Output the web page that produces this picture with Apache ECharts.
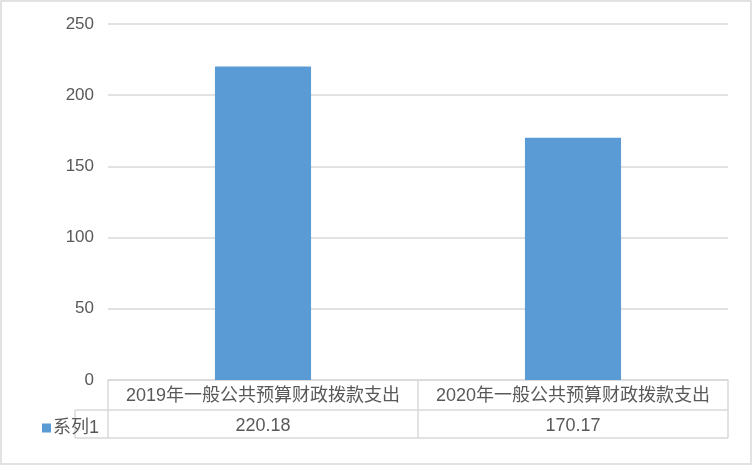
<!DOCTYPE html>
<html>
<head>
<meta charset="utf-8">
<script src="https://cdn.jsdelivr.net/npm/echarts@6/dist/echarts.min.js"></script>
<style>
  html, body { margin: 0; padding: 0; background: #fff; }
  #chart { width: 752px; height: 465px; }
</style>
</head>
<body>
<div id="chart"></div>
<script>
const categories = ['2019年一般公共预算财政拨款支出', '2020年一般公共预算财政拨款支出']
const values = [220.18, 170.17]
const seriesName = '系列1'
const yTicks = { min: 0, max: 250, interval: 50 }

const font = '"Liberation Sans", "Noto Sans CJK SC", sans-serif'
const textColor = '#595959'
const lineColor = '#d9d9d9'

const myChart = echarts.init(document.getElementById('chart'))

const option = {
  animation: false,
  textStyle: { fontFamily: font },
  grid: { left: 108, right: 24, top: 24, bottom: 85 },
  legend: {
    data: [seriesName],
    left: 37,
    top: 414,
    icon: 'rect',
    itemWidth: 9,
    itemHeight: 9,
    itemGap: 1,
    textStyle: { color: textColor, fontSize: 18, fontFamily: font, padding: [0, 0, 0, -3] }
  },
  xAxis: [
    {
      type: 'category',
      data: categories,
      axisLine: { lineStyle: { color: lineColor, width: 1.5 } },
      axisTick: { show: true, interval: 0, length: 58, lineStyle: { color: lineColor, width: 1.5 } },
      axisLabel: { interval: 0, color: textColor, fontSize: 18, margin: 7, fontFamily: font }
    },
    {
      type: 'category',
      position: 'bottom',
      offset: 30,
      data: values.map(v => v.toFixed(2)),
      axisLine: { show: true, lineStyle: { color: lineColor, width: 1.5 } },
      axisTick: { show: false },
      axisLabel: { interval: 0, color: textColor, fontSize: 18, margin: 7, fontFamily: font }
    }
  ],
  yAxis: {
    type: 'value',
    min: yTicks.min,
    max: yTicks.max,
    interval: yTicks.interval,
    axisLine: { show: false },
    axisTick: { show: false },
    axisLabel: { color: textColor, fontSize: 17, margin: 14, fontFamily: font },
    splitLine: { lineStyle: { color: lineColor, width: 1.5 } }
  },
  series: [
    {
      name: seriesName,
      type: 'bar',
      data: values,
      barWidth: '31%',
      itemStyle: { color: '#5b9bd5' }
    }
  ],
  graphic: [
    // outer chart border
    { type: 'rect', shape: { x: 1, y: 1, width: 750, height: 463 }, style: { fill: 'none', stroke: lineColor, lineWidth: 1.5 }, silent: true },
    // data table frame pieces left of / below the plot
    { type: 'line', shape: { x1: 75, y1: 410, x2: 108, y2: 410 }, style: { stroke: lineColor, lineWidth: 1.5 }, silent: true },
    { type: 'line', shape: { x1: 75, y1: 438, x2: 728, y2: 438 }, style: { stroke: lineColor, lineWidth: 1.5 }, silent: true },
    { type: 'line', shape: { x1: 75, y1: 410, x2: 75, y2: 438 }, style: { stroke: lineColor, lineWidth: 1.5 }, silent: true }
  ]
}

option && myChart.setOption(option)
</script>
</body>
</html>
